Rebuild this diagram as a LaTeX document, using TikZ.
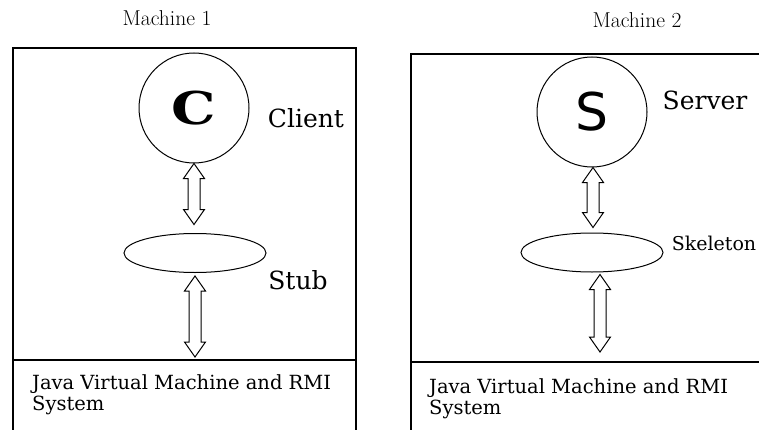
\documentclass[tikz,border=0pt]{standalone}
\usepackage{fontspec}
\setmainfont{DejaVu Serif}
\newfontfamily\lmfont{Latin Modern Roman}
\newfontfamily\sansS{DejaVu Sans}
\usetikzlibrary{calc,shapes.geometric}
\tikzset{
  boxline/.style={line width=1.4pt},
  circ/.style={circle,draw,line width=1pt,minimum size=110pt,inner sep=0pt},
  ell/.style={ellipse,draw,line width=1pt,minimum width=142pt,minimum height=39pt,inner sep=0pt},
  lbl/.style={inner sep=0pt,font=\fontsize{25}{30}\selectfont},
  mach/.style={inner sep=0pt,font=\lmfont\fontsize{21.5}{24}\selectfont},
  jvm/.style={inner sep=0pt,align=left,anchor=west,font=\fontsize{19.5}{21}\selectfont},
  arr/.style={draw,line width=1pt,fill=white}
}
\newcommand\dblarrow[2]{%
  \draw[arr] let \p1=#1, \p2=#2 in
    (\x1,\y1) -- (\x1+10.5pt,\y1-15pt) -- (\x1+6pt,\y1-15pt) -- (\x1+6pt,\y2+15pt)
    -- (\x1+10.5pt,\y2+15pt) -- (\x1,\y2) -- (\x1-10.5pt,\y2+15pt) -- (\x1-6pt,\y2+15pt)
    -- (\x1-6pt,\y1-15pt) -- (\x1-10.5pt,\y1-15pt) -- cycle;}
\begin{document}
\begin{tikzpicture}[x=1pt,y=1pt]
\useasboundingbox (0,0) rectangle (759,429);
\clip (0,0) rectangle (759,429);
% machine boxes
\draw[boxline] (13,-10) -- (13,381) -- (356,381) -- (356,-10);
\draw[boxline] (13,69) -- (356,69);
\draw[boxline] (411,-10) -- (411,375) -- (770,375);
\draw[boxline] (411,67) -- (770,67);
\coordinate (divL) at (195,69);
\coordinate (divR) at (600,67);
% titles
\node[mach] (m1) at (167,411) {Machine 1};
\node[mach] (m2) at (637,409) {Machine 2};
% left machine
\node[circ] (c) at (194,321) {\scalebox{1.3}[1.05]{\fontsize{43}{43}\selectfont\bfseries C}};
\node[lbl] (cl) at (306,311) {Client};
\node[ell] (stub) at (195,176) {};
\node[lbl] (sl) at (298,149) {Stub};
\dblarrow{(c.south)}{($(stub.north)+(0,8.5)$)}
\dblarrow{($(stub.south)+(0,-3)$)}{($(divL)+(0,3)$)}
\node[jvm] (jl) at (32,34) {Java Virtual Machine and RMI\\System};
% right machine
\node[circ] (s) at (592,317) {\raisebox{-6pt}{\sansS\fontsize{52}{52}\selectfont S}};
\node[lbl] (srv) at (705,329) {Server};
\node[ell] (skel) at (592,176.5) {};
\node[inner sep=0pt,font=\fontsize{19}{21}\selectfont] (skl) at (714,186) {Skeleton};
\dblarrow{($(s.south)+(1,0)$)}{($(skel.north)+(1,5)$)}
\dblarrow{($(skel.south)+(8,-2)$)}{($(divR)+(0,10)$)}
\node[jvm] (jr) at (429,30) {Java Virtual Machine and RMI\\System};
\end{tikzpicture}
\end{document}
